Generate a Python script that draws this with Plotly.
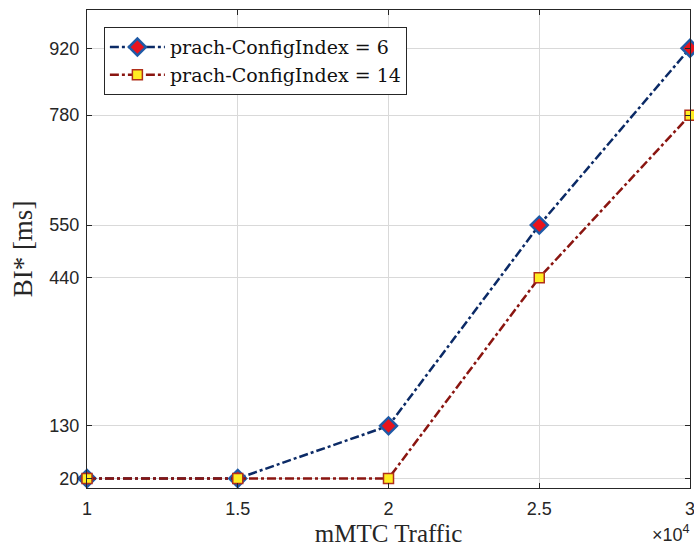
import plotly.graph_objects as go

traffic = [10000, 15000, 20000, 25000, 30000]
bi_cfg6 = [20, 20, 130, 550, 920]
bi_cfg14 = [20, 20, 20, 440, 780]
x_tick_vals = [10000, 15000, 20000, 25000, 30000]
x_tick_text = ["1", "1.5", "2", "2.5", "3"]
y_tick_vals = [20, 130, 440, 550, 780, 920]

fig = go.Figure()
fig.add_trace(go.Scatter(
    x=traffic, y=bi_cfg6, mode="lines+markers", name="prach-ConfigIndex = 6",
    line=dict(color="#0b2a66", width=2.5, dash="dashdot"),
    marker=dict(symbol="diamond", size=13, color="#e8141c",
                line=dict(color="#1f5aa6", width=2.5)),
    cliponaxis=False))
fig.add_trace(go.Scatter(
    x=traffic, y=bi_cfg14, mode="lines+markers", name="prach-ConfigIndex = 14",
    line=dict(color="#8a1510", width=2.5, dash="dashdot"),
    marker=dict(symbol="square", size=10, color="#ffee22",
                line=dict(color="#b0301a", width=1.5)),
    cliponaxis=False))

axis_common = dict(showline=True, linecolor="#262626", linewidth=1, mirror="ticks",
                   ticks="inside", ticklen=5, tickcolor="#262626",
                   showgrid=True, gridcolor="#d9d9d9", gridwidth=1, zeroline=False,
                   automargin=False, ticklabeloverflow="allow",
                   tickfont=dict(family="Liberation Sans, Arial", size=18, color="#262626"))

fig.update_xaxes(range=[10000, 30000], tickvals=x_tick_vals, ticktext=x_tick_text,
                 ticklabelstandoff=4,
                 title=dict(text="mMTC Traffic", standoff=8,
                            font=dict(family="Liberation Serif, serif", size=25, color="#262626")),
                 **axis_common)
fig.update_yaxes(range=[0, 1000], tickvals=y_tick_vals, ticklabelstandoff=3,
                 title=dict(text="BI* [ms]", standoff=8,
                            font=dict(family="Liberation Serif, serif", size=27, color="#262626")),
                 **axis_common)

fig.add_annotation(text="×10<sup>4</sup>", xref="paper", yref="paper", x=1.004, y=-0.066,
                   xanchor="right", yanchor="top", showarrow=False,
                   font=dict(family="Liberation Sans, Arial", size=18, color="#262626"))

fig.update_layout(
    width=694, height=547,
    margin=dict(l=87, r=4, t=10, b=59),
    plot_bgcolor="white", paper_bgcolor="white",
    legend=dict(x=0.028, y=0.964, xanchor="left", yanchor="top",
                bgcolor="white", bordercolor="#262626", borderwidth=1,
                font=dict(family="DejaVu Serif, serif", size=19, color="#111111"),
                tracegroupgap=0, itemwidth=55),
    showlegend=True,
)

fig.write_html("out.html", config={"displayModeBar": False},
               post_script="document.body.style.margin='0';document.body.style.overflow='hidden';")
